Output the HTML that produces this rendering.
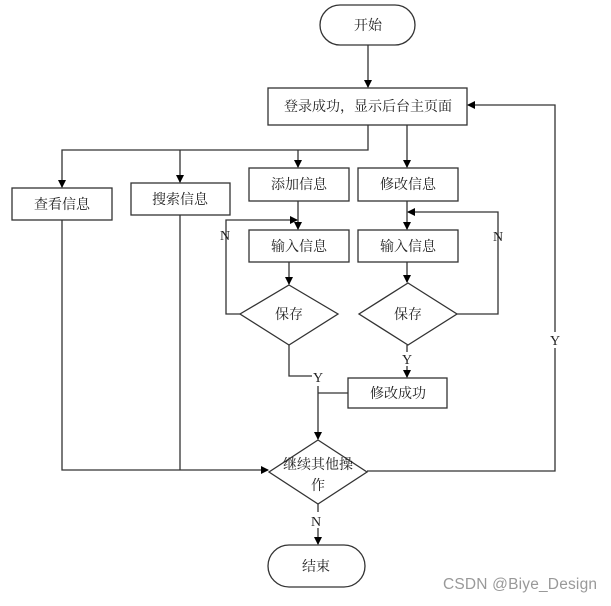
<!DOCTYPE html>
<html><head><meta charset="utf-8"><style>
html,body{margin:0;padding:0;background:#fff;}
svg text{font-family:"Liberation Serif","Noto Serif CJK SC",serif;font-size:14px;fill:#222;}
</style></head><body>
<svg width="611" height="601" viewBox="0 0 611 601" xmlns="http://www.w3.org/2000/svg">
<defs><marker id="a" markerWidth="8" markerHeight="8" refX="7" refY="4" orient="auto" markerUnits="userSpaceOnUse"><path d="M0,0 L8,4 L0,8 z" fill="#000"/></marker></defs>
<g fill="none" stroke="#333" stroke-width="1.3">
<rect x="320" y="5" width="95" height="40" rx="20"/>
<rect x="268" y="88" width="199" height="37"/>
<rect x="12" y="188" width="100" height="32"/>
<rect x="131" y="183" width="99" height="32"/>
<rect x="249" y="168" width="100" height="33"/>
<rect x="358" y="168" width="100" height="33"/>
<rect x="249" y="230" width="100" height="32"/>
<rect x="358" y="230" width="100" height="32"/>
<polygon points="289,285 338,314 289,345 240,314"/>
<polygon points="408,283 457,314 408,345 359,314"/>
<rect x="348" y="378" width="99" height="30"/>
<polygon points="318,440 367,472 318,504 269,472"/>
<rect x="268" y="545" width="97" height="42" rx="21"/>
</g>
<g fill="none" stroke="#333" stroke-width="1.3">
<path d="M368,45 V87" marker-end="url(#a)"/>
<path d="M368,125 V150 H62 V187" marker-end="url(#a)"/>
<path d="M180,150 V182" marker-end="url(#a)"/>
<path d="M298,150 V167" marker-end="url(#a)"/>
<path d="M407,125 V167" marker-end="url(#a)"/>
<path d="M298,201 V229" marker-end="url(#a)"/>
<path d="M407,201 V229" marker-end="url(#a)"/>
<path d="M289,262 V284" marker-end="url(#a)"/>
<path d="M407,262 V282" marker-end="url(#a)"/>
<path d="M240,314 H226 V220 H297" marker-end="url(#a)"/>
<path d="M457,314 H498 V212 H408" marker-end="url(#a)"/>
<path d="M289,345 V376 H312"/>
<path d="M407,345 V352"/>
<path d="M407,366 V377" marker-end="url(#a)"/>
<path d="M348,393 H318"/>
<path d="M318,386 V439" marker-end="url(#a)"/>
<path d="M62,220 V470 H268" marker-end="url(#a)"/>
<path d="M180,215 V470"/>
<path d="M367,471 H555 V348"/>
<path d="M555,332 V105 H468" marker-end="url(#a)"/>
<path d="M318,504 V512"/>
<path d="M318,528 V544" marker-end="url(#a)"/>
</g>
<g text-anchor="middle">
<text x="368" y="30">开始</text>
<text x="368" y="111">登录成功，显示后台主页面</text>
<text x="62" y="209">查看信息</text>
<text x="180" y="204">搜索信息</text>
<text x="299" y="189">添加信息</text>
<text x="408" y="189">修改信息</text>
<text x="299" y="251">输入信息</text>
<text x="408" y="251">输入信息</text>
<text x="289" y="319">保存</text>
<text x="408" y="319">保存</text>
<text x="398" y="398">修改成功</text>
<text x="318" y="469">继续其他操</text>
<text x="318" y="490">作</text>
<text x="316" y="571">结束</text>
<text x="225" y="240">N</text>
<text x="498" y="241">N</text>
<text x="318" y="382">Y</text>
<text x="407" y="364">Y</text>
<text x="555" y="345">Y</text>
<text x="316" y="526">N</text>
</g>
<text x="443" y="589" textLength="154" style="font-family:'Liberation Sans',sans-serif;font-size:15.5px;fill:#999;">CSDN @Biye_Design</text>
</svg>
</body></html>
